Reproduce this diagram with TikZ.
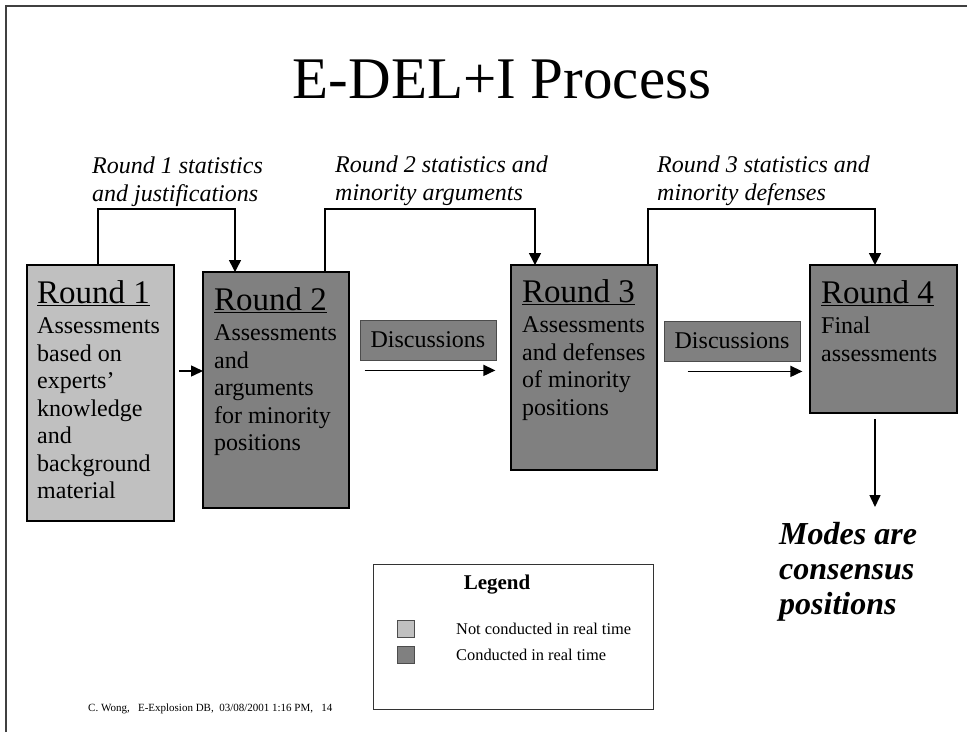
\documentclass[tikz,border=0pt]{standalone}
\usepackage{fontspec}
\setmainfont{Liberation Serif}
\usetikzlibrary{arrows.meta}
\definecolor{lgray}{HTML}{C0C0C0}
\definecolor{dgray}{HTML}{808080}
\tikzset{
  rbox/.style={draw=black, line width=1.8pt, anchor=north west, inner sep=0pt, outer sep=0pt},
  rtext/.style={anchor=north west, inner sep=0pt, align=left,
    font=\fontsize{24}{27.5}\selectfont},
  dbox/.style={draw=black!70, line width=0.8pt, fill=dgray, minimum width=136pt, minimum height=40pt,
    inner sep=0pt, font=\fontsize{24}{24}\selectfont},
  lbl/.style={anchor=north west, inner sep=0pt, align=left, font=\itshape\fontsize{24}{28}\selectfont},
  conn/.style={line width=1.5pt, -{Triangle[length=12pt,width=12pt]}},
  harr/.style={line width=1.5pt, -{Triangle[length=12pt,width=11pt]}},
  sq/.style={draw=black!70, line width=0.6pt, minimum size=17pt, inner sep=0pt},
}
\newcommand{\rtitle}[1]{{\fontsize{33}{33}\selectfont\underline{#1}}\\[3pt]}
\begin{document}
\begin{tikzpicture}[x=1pt,y=-1pt]
\useasboundingbox (0,0) rectangle (967,732);
% frame
\draw[black!75, line width=1.5pt] (6,732) -- (6,6) -- (967,6);
% title
\node[anchor=base, inner sep=0pt, font=\fontsize{59}{59}\selectfont] (title) at (502,98) {E-DEL+I Process};
% boxes
\node[rbox, fill=lgray, minimum width=147pt, minimum height=256pt] (r1) at (27,265) {};
\node[rbox, fill=dgray, minimum width=146pt, minimum height=236pt] (r2) at (203,272) {};
\node[rbox, fill=dgray, minimum width=146pt, minimum height=205pt] (r3) at (511,265) {};
\node[rbox, fill=dgray, minimum width=147pt, minimum height=148pt] (r4) at (810,265) {};
% texts
\node[rtext] (t1) at (37,280) {\rtitle{Round 1}Assessments\\based on\\experts’\\knowledge\\and\\background\\material};
\node[rtext] (t2) at (214,287) {\rtitle{Round 2}Assessments\\and\\arguments\\for minority\\positions};
\node[rtext] (t3) at (522,279) {\rtitle{Round 3}Assessments\\and defenses\\of minority\\positions};
\node[rtext] (t4) at (821,280) {\rtitle{Round 4}Final\\assessments};
% discussions
\node[dbox] (d1) at (428,340) {Discussions};
\node[dbox] (d2) at (732,341) {Discussions};
% top labels
\node[lbl] (l1) at (92,157) {Round 1 statistics\\and justifications};
\node[lbl] (l2) at (335,156) {Round 2 statistics and\\minority arguments};
\node[lbl] (l3) at (657,156) {Round 3 statistics and\\minority defenses};
% top connectors
\draw[conn] ([xshift=71pt]r1.north west) -- ++(0,-56) -| ([xshift=32pt]r2.north west);
\draw[conn] ([xshift=122pt]r2.north west) -- ++(0,-63) -| ([xshift=24pt]r3.north west);
\draw[conn] ([xshift=137pt]r3.north west) -- ++(0,-56) -| ([xshift=65pt]r4.north west);
% horizontal arrows
\coordinate (a1) at (0,371);
\draw[harr] ([xshift=5pt]r1.east |- a1) -- (r2.west |- a1);
\draw[harr] ([shift={(5pt,-10pt)}]d1.south west) -- ([shift={(-1pt,-10pt)}]d1.south east);
\draw[harr] ([shift={(24pt,-10pt)}]d2.south west) -- ([shift={(2pt,-10pt)}]d2.south east);
% down arrow
\coordinate (mtip) at (875,507);
\draw[harr] (mtip |- r4.south) ++(0,6) -- (mtip);
\node[anchor=north west, inner sep=0pt, align=left, font=\bfseries\itshape\fontsize{32}{35}\selectfont] (modes) at (779,522) {Modes are\\consensus\\positions};
% legend
\node[draw=black!80, line width=0.8pt, anchor=north west, minimum width=280pt, minimum height=145pt, inner sep=0pt] (leg) at (373,564) {};
\node[anchor=base, inner sep=0pt, font=\bfseries\fontsize{21}{21}\selectfont] (legt) at (497,589) {Legend};
\node[sq, fill=lgray] (s1) at (405.5,628.5) {};
\node[sq, fill=dgray] (s2) at (405.5,654.5) {};
\node[anchor=base west, inner sep=0pt, font=\fontsize{16.4}{16.4}\selectfont] (lt1) at (456,634) {Not conducted in real time};
\node[anchor=base west, inner sep=0pt, font=\fontsize{16.4}{16.4}\selectfont] (lt2) at (456,660) {Conducted in real time};
% footer
\node[anchor=base west, inner sep=0pt, font=\fontsize{11}{11}\selectfont] (foot) at (88,711) {C. Wong,\ \ \ E-Explosion DB,\ \ 03/08/2001 1:16 PM,\ \ \ 14};
\end{tikzpicture}
\end{document}
